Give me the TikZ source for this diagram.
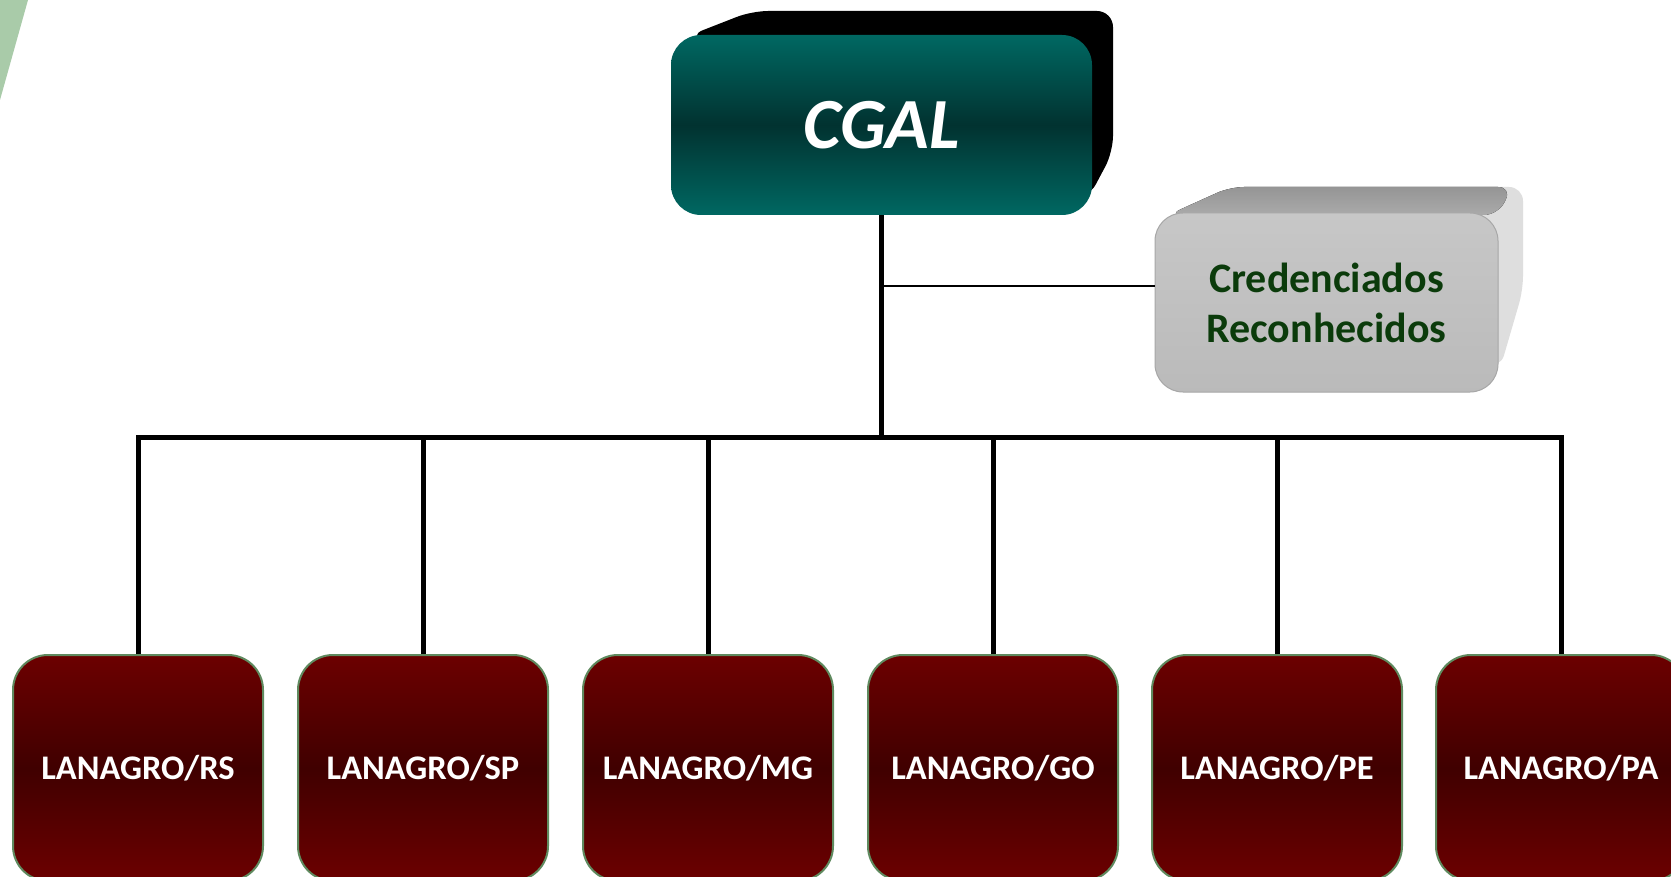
\documentclass[tikz,border=0pt]{standalone}
\usepackage{fontspec}
\setmainfont{Carlito}
\definecolor{leafgreen}{HTML}{A9CBA9}
\definecolor{tealtop}{HTML}{006862}
\definecolor{tealmid}{HTML}{013230}
\definecolor{redtop}{HTML}{6C0000}
\definecolor{redmid}{HTML}{400000}
\definecolor{boxedge}{HTML}{5F8A5F}
\definecolor{credtext}{HTML}{0B3B0B}
\definecolor{credfront}{HTML}{C4C4C4}
\definecolor{credside}{HTML}{DEDEDE}
\definecolor{credtop}{HTML}{959595}
\tikzset{
  lanagro/.style={rounded corners=35pt, minimum width=250pt, minimum height=226pt,
    draw=boxedge, line width=2pt, top color=redtop, bottom color=redtop, middle color=redmid,
    text=white, font=\bfseries\fontsize{34.5}{40}\selectfont, inner sep=0pt},
  barline/.style={line width=5pt, black, line join=miter},
  thinline/.style={line width=2pt, black}
}
\begin{document}
\begin{tikzpicture}[x=1pt,y=-1pt]
\useasboundingbox (0,0) rectangle (1671,877);
\fill[white] (0,0) rectangle (1671,877);
% leaf decoration
\fill[leafgreen] (0,0) -- (28,0) -- (0,100) -- cycle;
% CGAL extrusion
\fill[black, rounded corners=16pt] (688,36) -- (752,11) -- (1113,11) -- (1113,152) -- (1088,199) -- cycle;
\node[rounded corners=30pt, minimum width=421pt, minimum height=180pt, inner sep=0pt,
  top color=tealtop, bottom color=tealtop, middle color=tealmid, text=white,
  font=\bfseries\itshape\fontsize{72}{76}\selectfont] (cgal) at (881.5,125) {CGAL};
% Credenciados extrusion
\fill[credside, rounded corners=14pt] (1168,215) -- (1230,187) -- (1523,187) -- (1523,290) -- (1500,369) -- cycle;
\fill[top color=credtop, bottom color=credtop!80!white, rounded corners=14pt] (1168,215) -- (1230,187) -- (1512,187) -- (1498,215) -- cycle;
\node[rounded corners=28pt, minimum width=343pt, minimum height=179pt, inner sep=0pt,
  top color=credfront!95!white, bottom color=credfront!95!black, draw=credfront!85!black, line width=1pt,
  text=credtext, align=center, font=\bfseries\fontsize{42}{50}\selectfont] (cred) at (1326.5,302.5) {Credenciados\\Reconhecidos};
% LANAGRO boxes
\node[lanagro] (rs) at (138,768) {LANAGRO/RS};
\node[lanagro] (sp) at (423,768) {LANAGRO/SP};
\node[lanagro] (mg) at (708,768) {LANAGRO/MG};
\node[lanagro] (go) at (993,768) {LANAGRO/GO};
\node[lanagro] (pe) at (1277,768) {LANAGRO/PE};
\node[lanagro] (pa) at (1561,768) {LANAGRO/PA};
% connectors
\coordinate (hub) at (881.5,437);
\coordinate (credin) at (1155,286);
\draw[barline] (cgal.south) -- (hub);
\draw[thinline] (cgal.south |- credin) -- (credin);
\draw[barline] (rs.north) -- (rs.north |- hub) -- (pa.north |- hub) -- (pa.north);
\draw[barline] (sp.north) -- (sp.north |- hub);
\draw[barline] (mg.north) -- (mg.north |- hub);
\draw[barline] (go.north) -- (go.north |- hub);
\draw[barline] (pe.north) -- (pe.north |- hub);
\end{tikzpicture}
\end{document}
